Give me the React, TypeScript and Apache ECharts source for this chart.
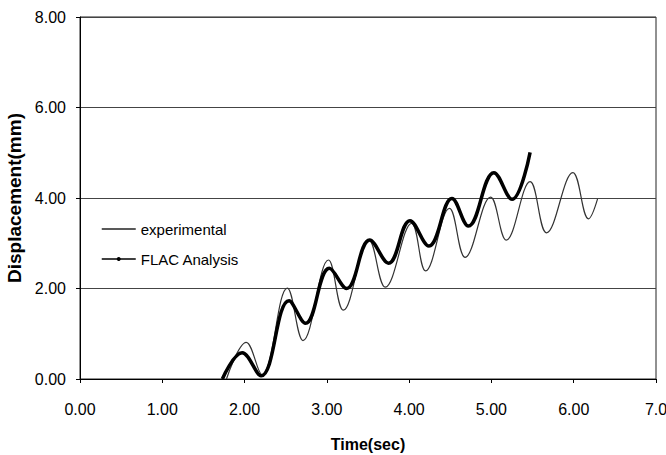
import React, { useEffect, useRef } from "react";
import * as echarts from "echarts";

// Experimental curve (time in sec, displacement in mm), read at peaks/troughs
const expTime = [1.78, 2.02, 2.21, 2.52, 2.71, 3.02, 3.2, 3.51, 3.71, 4.03, 4.2, 4.49, 4.68, 4.99, 5.18, 5.47, 5.67, 5.99, 6.18, 6.29];
const expDisp = [0, 0.81, 0.1, 2.01, 0.85, 2.63, 1.52, 3.08, 2.03, 3.44, 2.39, 3.77, 2.69, 4.02, 3.07, 4.36, 3.23, 4.56, 3.54, 3.98];

// FLAC analysis curve
const flacTime = [1.73, 1.97, 2.2, 2.54, 2.74, 3.03, 3.24, 3.52, 3.75, 4.01, 4.24, 4.52, 4.72, 5.03, 5.25, 5.47];
const flacDisp = [0, 0.58, 0.07, 1.73, 1.23, 2.45, 2.0, 3.07, 2.56, 3.5, 2.94, 3.99, 3.38, 4.56, 3.97, 5.01];

const seriesNames = ["experimental", "FLAC Analysis"];
const xTitle = "Time(sec)";
const yTitle = "Displacement(mm)";

const FONT = "'Liberation Sans', Arial, sans-serif";

export default function App() {
  const ref = useRef<HTMLDivElement>(null);
  useEffect(() => {
    if (!ref.current) return;
    const chart = echarts.init(ref.current, undefined, { renderer: "svg" });
    const expData = expTime.map((t, i) => [t, expDisp[i]]);
    const flacData = flacTime.map((t, i) => [t, flacDisp[i]]);
    chart.setOption({
      animation: false,
      backgroundColor: "#fff",
      textStyle: { fontFamily: FONT },
      grid: {
        left: 80,
        right: 10,
        top: 17,
        bottom: 76,
        containLabel: false,
        outerBoundsMode: "none",
        show: true,
        borderColor: "#222",
        borderWidth: 1,
      },
      legend: {
        orient: "vertical",
        left: 96,
        top: 216,
        itemWidth: 34,
        itemHeight: 5,
        itemGap: 14,
        textStyle: { fontFamily: FONT, fontSize: 15, color: "#000", lineHeight: 16 },
        data: [
          {
            name: seriesNames[0],
            itemStyle: { opacity: 0 },
            lineStyle: { width: 1.3, color: "#222" },
          },
          {
            name: seriesNames[1],
            lineStyle: { width: 1.5, color: "#000" },
          },
        ],
      },
      xAxis: {
        type: "value",
        min: 0,
        max: 7,
        interval: 1,
        name: xTitle,
        nameLocation: "middle",
        nameGap: 57,
        nameTextStyle: { fontFamily: FONT, fontSize: 16, fontWeight: "bold", color: "#000" },
        axisLine: { show: true, lineStyle: { color: "#000", width: 1 } },
        axisTick: { show: true, inside: false, length: 4, lineStyle: { color: "#000" } },
        axisLabel: {
          fontFamily: FONT,
          fontSize: 16,
          color: "#000",
          margin: 22,
          formatter: (v: number) => (v === 7 ? "7.0" : v.toFixed(2)),
        },
        splitLine: { show: false },
      },
      yAxis: {
        type: "value",
        min: 0,
        max: 8,
        interval: 2,
        name: yTitle,
        nameLocation: "middle",
        nameGap: 52,
        nameTextStyle: { fontFamily: FONT, fontSize: 19, fontWeight: "bold", color: "#000" },
        axisLine: { show: true, lineStyle: { color: "#000", width: 1 } },
        axisTick: { show: true, inside: false, length: 4, lineStyle: { color: "#000" } },
        axisLabel: {
          fontFamily: FONT,
          fontSize: 16,
          color: "#000",
          margin: 14,
          formatter: (v: number) => v.toFixed(2),
        },
        splitLine: { show: true, lineStyle: { color: "#444", width: 1 } },
      },
      series: [
        {
          name: seriesNames[0],
          type: "line",
          data: expData,
          smooth: 0.4,
          symbol: "none",
          lineStyle: { color: "#333", width: 1.2 },
          itemStyle: { color: "#333" },
        },
        {
          name: seriesNames[1],
          type: "line",
          data: flacData,
          smooth: 0.4,
          symbol: "circle",
          symbolSize: 3,
          showSymbol: false,
          lineStyle: { color: "#000", width: 3.5 },
          itemStyle: { color: "#000" },
        },
      ],
    });
    return () => chart.dispose();
  }, []);
  return (
    <div
      ref={ref}
      style={{ position: "fixed", left: 0, top: 0, width: 666, height: 455 }}
    />
  );
}
